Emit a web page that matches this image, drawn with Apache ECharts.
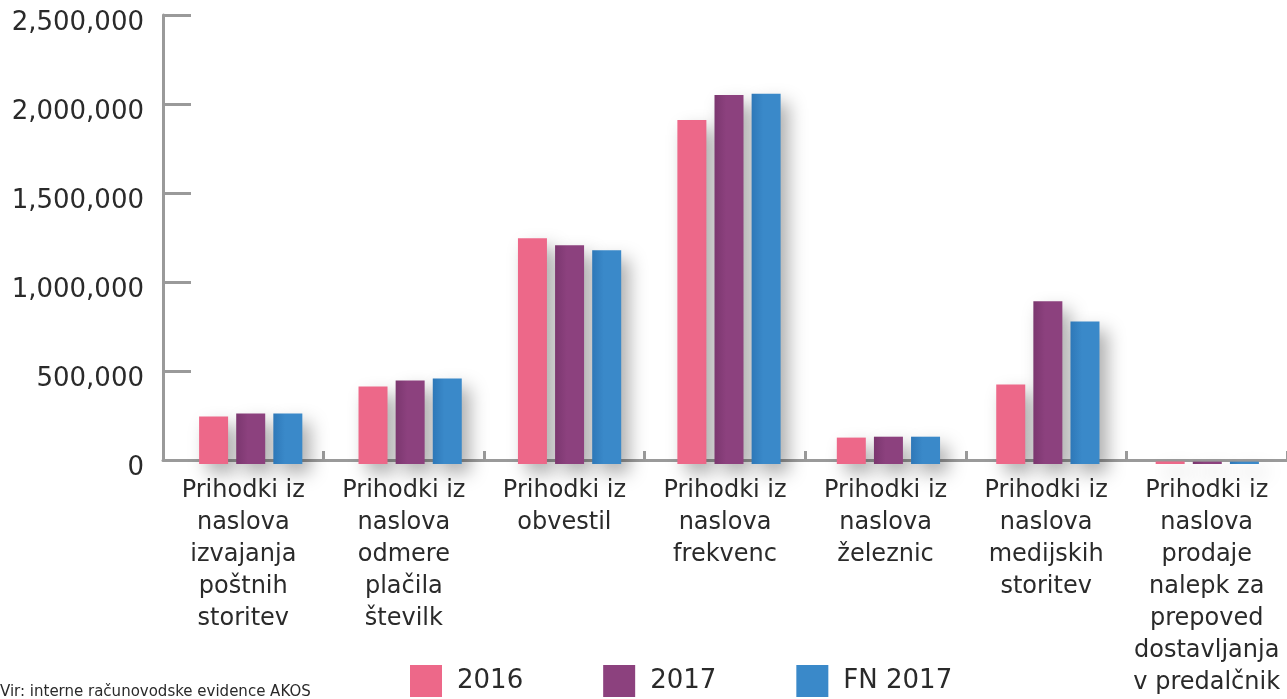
<!DOCTYPE html>
<html>
<head>
<meta charset="utf-8">
<title>Prihodki</title>
<script src="https://cdn.jsdelivr.net/npm/echarts@6/dist/echarts.min.js"></script>
<style>
  html, body { margin: 0; padding: 0; background: #fff; }
  #chart { width: 1287px; height: 699px; }
</style>
</head>
<body>
<div id="chart"></div>
<script>
// kategorije (x os)
const categories = [
  'Prihodki iz\nnaslova\nizvajanja\npoštnih\nstoritev',
  'Prihodki iz\nnaslova\nodmere\nplačila\nštevilk',
  'Prihodki iz\nobvestil',
  'Prihodki iz\nnaslova\nfrekvenc',
  'Prihodki iz\nnaslova\nželeznic',
  'Prihodki iz\nnaslova\nmedijskih\nstoritev',
  'Prihodki iz\nnaslova\nprodaje\nnalepk za\nprepoved\ndostavljanja\nv predalčnik'
]

// vrednosti po serijah
const seriesNames = ['2016', '2017', 'FN 2017']
const values2016 = [264000, 431000, 1257000, 1916000, 147000, 443000, 14000]
const values2017 = [281000, 465000, 1218000, 2055000, 152000, 906000, 13000]
const valuesFN2017 = [281000, 476000, 1190000, 2061000, 152000, 794000, 13000]

// y os
const yMin = 0
const yMax = 2500000
const yInterval = 500000

const source = 'Vir: interne računovodske evidence AKOS'

const FONT = 'DejaVu Sans'
const TEXT = '#2a2a2a'
const AXIS = '#9a9a9a'

const colors = ['#ED6889', '#8C417E', '#3A89C9']
const darkEdge = ['#ED6889', '#7B376F', '#2E78B8']

const chart = echarts.init(document.getElementById('chart'))

function barStyle(i) {
  return {
    color: new echarts.graphic.LinearGradient(0, 0, 1, 0, [
      { offset: 0, color: darkEdge[i] },
      { offset: 0.4, color: colors[i] },
      { offset: 1, color: colors[i] }
    ]),
    shadowBlur: 18,
    shadowColor: 'rgba(0, 0, 0, 0.32)',
    shadowOffsetX: 8,
    shadowOffsetY: 9
  }
}

const dataSets = [values2016, values2017, valuesFN2017]

const option = {
  backgroundColor: '#fff',
  animation: false,
  textStyle: { fontFamily: FONT },
  graphic: [
    {
      type: 'text',
      left: 0,
      top: 685,
      style: { text: source, fontFamily: FONT, fontSize: 15, fill: TEXT }
    }
  ],
  legend: {
    left: 410,
    top: 665,
    padding: 0,
    itemWidth: 32,
    itemHeight: 32,
    itemGap: 80,
    icon: 'rect',
    textStyle: { fontFamily: FONT, fontSize: 26, color: TEXT, padding: [0, 0, 0, 10] },
    data: seriesNames.map((n, i) => ({
      name: n,
      itemStyle: { color: colors[i], shadowBlur: 0, shadowOffsetX: 0, shadowOffsetY: 0 }
    }))
  },
  grid: [
    // osi
    { left: 163, right: -4, top: 15, bottom: 235, containLabel: false },
    // stolpci (malo zamaknjeni desno kot v originalu)
    { left: 171, right: -12, top: 15, bottom: 235, containLabel: false }
  ],
  xAxis: [
    {
      type: 'category',
      gridIndex: 0,
      data: categories,
      axisLine: { lineStyle: { color: AXIS, width: 3 } },
      axisTick: { show: true, inside: true, length: 9, lineStyle: { color: AXIS, width: 3 } },
      axisLabel: {
        interval: 0,
        margin: 15,
        fontFamily: FONT,
        fontSize: 24,
        lineHeight: 32,
        color: TEXT,
        align: 'center'
      }
    },
    {
      type: 'category',
      gridIndex: 1,
      data: categories,
      show: false
    }
  ],
  yAxis: [
    {
      type: 'value',
      gridIndex: 0,
      min: yMin,
      max: yMax,
      interval: yInterval,
      axisLine: { show: true, lineStyle: { color: AXIS, width: 3 } },
      axisTick: { show: true, inside: true, length: 28, lineStyle: { color: AXIS, width: 3 } },
      splitLine: { show: false },
      axisLabel: {
        margin: 19,
        fontFamily: FONT,
        fontSize: 26,
        color: TEXT,
        verticalAlign: 'top',
        lineHeight: 16,
        formatter: v => v.toLocaleString('en-US')
      }
    },
    {
      type: 'value',
      gridIndex: 1,
      min: yMin,
      max: yMax,
      interval: yInterval,
      show: false
    }
  ],
  series: seriesNames.map((name, i) => ({
    name: name,
    type: 'bar',
    xAxisIndex: 1,
    yAxisIndex: 1,
    barWidth: 29,
    barGap: '28%',
    data: dataSets[i],
    itemStyle: barStyle(i)
  }))
}

chart.setOption(option)

window.addEventListener('resize', () => {
  chart && chart.resize()
})
</script>
</body>
</html>
